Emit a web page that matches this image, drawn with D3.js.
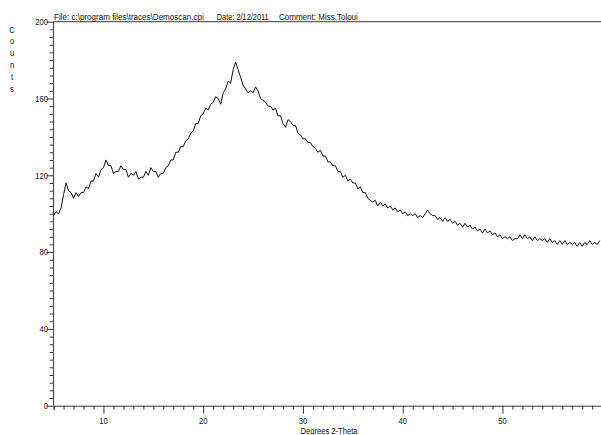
<!DOCTYPE html>
<html><head><meta charset="utf-8">
<script src="https://cdn.jsdelivr.net/npm/d3@7"></script>
<style>html,body{margin:0;padding:0;background:#fff;}svg{display:block;}</style>
</head><body>
<svg id="c" width="601" height="435"></svg>
<script>
const startAngle = 5.0;
const stepAngle = 0.25;
const counts = [
99,101,100,103,110,116,112,111,108,111,109,111,111,114,113,117,117,121,119,123,
124,128,125,125,121,122,122,125,123,123,119,121,120,122,118,119,119,122,120,124,
122,122,119,121,121,124,125,128,128,132,132,135,135,138,139,142,143,147,147,151,
152,155,154,157,158,161,160,157,163,165,169,168,175,179,175,171,167,165,163,164,
163,166,164,160,159,158,156,156,154,155,151,151,147,145,149,148,146,146,142,141,
139,139,137,137,135,134,132,133,130,130,127,127,125,125,122,122,119,120,117,118,
116,116,113,114,111,111,108,107,106,107,104,106,104,105,103,104,102,103,101,102,
100,101,99,100,99,100,98,99,98,100,102,100,99,99,97,98,96,98,96,97,
95,96,94,95,93,95,93,94,92,93,91,92,90,92,90,91,89,90,88,89,
87,88,87,88,86,87,87,89,87,89,87,88,86,88,86,87,86,87,85,87,
85,86,84,86,84,86,84,85,84,85,83,85,83,85,84,86,84,85,84,86
];
const xMajorTicks = [10,20,30,40,50];
const yMajorTicks = [0,40,80,120,160,200];
const headerParts = ["File: c:\\program files\\traces\\Demoscan.cpi", "Date: 2/12/2011", "Comment: Miss.Toloui"];
const xTitle = "Degrees 2-Theta";
const yTitle = ["C","o","u","n","t","s"];

const data = counts.map((v,i)=>({x:startAngle+i*stepAngle, y:v}));
const svg = d3.select("#c");
const x = d3.scaleLinear().domain([5,60]).range([53.6, 602.2]);
const y = d3.scaleLinear().domain([0,200]).range([405.7, 21.7]);
const axisColor = "#383838";
const textColor = "#111";
const sx = 0.8;
const font = "'Liberation Sans', Arial, sans-serif";

function label(g, tx, ty, txt, size, anchor, scale){
  return g.append("text").attr("transform",`translate(${tx},${ty}) scale(${scale||sx},1)`)
    .attr("text-anchor",anchor).attr("font-family",font).attr("font-size",size)
    .attr("fill",textColor).text(txt);
}

// top frame line
svg.append("line").attr("x1",x(5)).attr("x2",601).attr("y1",y(200)).attr("y2",y(200))
  .attr("stroke",axisColor).attr("stroke-width",1);

// x axis
const xMinor = d3.range(5,61,1);
const xAxis = d3.axisBottom(x).tickValues(xMinor).tickSize(4).tickFormat("");
const gx = svg.append("g").attr("transform",`translate(0,${y(0)})`).call(xAxis);
gx.select(".domain").attr("stroke",axisColor);
gx.selectAll(".tick line").attr("stroke",axisColor).attr("y2",d=>xMajorTicks.includes(d)?8:4);

// y axis
const yMinor = d3.range(0,201,4);
const yAxis = d3.axisLeft(y).tickValues(yMinor).tickSize(4).tickFormat("");
const gy = svg.append("g").attr("transform",`translate(${x(5)},0)`).call(yAxis);
gy.select(".domain").attr("stroke",axisColor).attr("d",`M0,${y(200)}V${y(0)}`);
gy.selectAll(".tick line").attr("stroke",axisColor).attr("x2",d=>yMajorTicks.includes(d)?-7:-4);

// tick labels
xMajorTicks.forEach(t=>label(svg, x(t), 423.5, String(t), 9.5, "middle"));
yMajorTicks.forEach(t=>label(svg, 48, y(t)+3.3, String(t), 9.5, "end"));

// titles
label(svg, 329, 434, xTitle, 9.5, "middle");
yTitle.forEach((c,i)=>label(svg, 12, 32.5+i*11.8, c, 9.5, "middle"));

// header, each part scaled horizontally to its width in the reference
const hx = [54, 216.7, 279];
const hw = [150, 52, 79];
headerParts.forEach((t,i)=>{
  const el = label(svg, hx[i], 20.3, t, 9.5, "start", 1);
  const w = el.node().getComputedTextLength();
  el.attr("transform",`translate(${hx[i]},20.3) scale(${hw[i]/w},1)`);
});

// curve
const line = d3.line().x(d=>x(d.x)).y(d=>y(d.y));
svg.append("path").datum(data).attr("d",line).attr("fill","none")
  .attr("stroke","#111").attr("stroke-width",1).attr("stroke-linejoin","round");
</script>
</body></html>
